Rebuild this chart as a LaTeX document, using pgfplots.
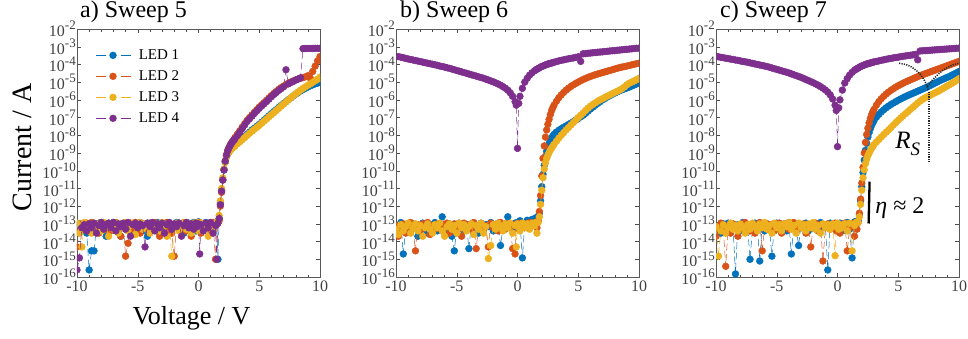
\documentclass[border=0pt]{standalone}
\usepackage{pgfplots}
\pgfplotsset{compat=1.18}
\usepackage{pgfplotstable}
\usepackage{fontspec}
\setmainfont{Liberation Serif}
\definecolor{c1}{RGB}{0,114,189}
\definecolor{c2}{RGB}{217,83,25}
\definecolor{c3}{RGB}{237,177,32}
\definecolor{c4}{RGB}{126,47,142}
\newcommand{\tpow}[1]{10\raisebox{0.42em}{\fontsize{13}{13}\selectfont #1}}

% Sweep 5: V, LED1, LED2, LED3, LED4 (A)
\pgfplotstableread{
V a b c d
-10.0 6e-14 5e-15 1.1e-13 2.5e-16
-9.8 1e-13 4e-14 3e-14 1.2e-15
-9.6 4e-14 1e-13 5e-15 6e-14
-9.4 8e-14 6e-14 1.2e-13 9e-14
-9.2 3e-14 1.1e-13 5e-14 4e-14
-9.0 2.5e-16 7e-14 9e-14 1e-13
-8.8 3e-15 1.2e-13 3e-14 6e-14
-8.6 3e-15 5e-14 1.1e-13 1.1e-13
-8.4 7e-14 9e-14 6e-14 3e-14
-8.2 1.1e-13 3e-14 1e-13 8e-14
-8.0 5e-14 1.2e-13 4e-14 1.2e-13
-7.8 9e-14 8e-14 1.2e-13 5e-14
-7.6 2e-14 5e-14 7e-14 9e-14
-7.4 1e-13 1.1e-13 2e-14 1.1e-13
-7.2 6e-14 4e-14 9e-14 6e-14
-7.0 1.2e-13 9e-14 5e-14 1.2e-13
-6.8 4e-14 1.2e-13 1.1e-13 4e-14
-6.6 8e-14 6e-14 3e-14 1e-13
-6.4 2e-14 2e-14 1e-13 7e-14
-6.2 1e-13 1e-13 6e-14 1.1e-13
-6.0 5e-14 1.5e-15 1.2e-13 5e-14
-5.8 1.1e-13 8e-15 4e-14 1.2e-13
-5.6 7e-14 1.1e-13 8e-14 2e-14
-5.4 3e-14 5e-14 1.1e-13 9e-14
-5.2 1e-13 1.2e-13 2.5e-14 1.1e-13
-5.0 6e-14 7e-14 9e-14 6e-14
-4.8 1.2e-13 3e-14 1.2e-13 1e-13
-4.6 4e-14 1e-13 5e-14 8e-14
-4.4 9e-14 6e-14 1e-13 5e-15
-4.2 2e-14 1.1e-13 7e-14 1.1e-13
-4.0 1.1e-13 4e-14 3e-14 7e-14
-3.8 5e-14 9e-14 1.1e-13 1.2e-13
-3.6 8e-14 1.2e-13 6e-14 4e-14
-3.4 1.2e-13 6e-14 1e-13 1e-13
-3.2 3e-14 2e-14 4e-14 6e-14
-3.0 1e-13 1e-13 1.2e-13 1.1e-13
-2.8 6e-14 8e-14 8e-14 3e-14
-2.6 1.1e-13 1.2e-13 2e-14 9e-14
-2.4 4e-14 5e-14 1e-13 1.2e-13
-2.2 9e-14 3e-14 1.5e-15 5e-14
-2.0 7e-14 1.5e-15 6e-14 1e-13
-1.8 1.2e-13 9e-14 1.1e-13 7e-14
-1.6 5e-14 1.1e-13 4e-14 1.1e-13
-1.4 1e-13 6e-14 9e-14 2e-14
-1.2 3e-14 1.2e-13 1.2e-13 8e-14
-1.0 8e-14 4e-14 5e-14 1.2e-13
-0.8 1.1e-13 1e-13 1e-13 6e-14
-0.6 6e-14 2e-14 3e-14 1e-13
-0.4 1.2e-13 7e-14 1.1e-13 5e-14
-0.2 4e-14 1.1e-13 7e-14 1.1e-13
-0.1 9e-14 5e-14 1.2e-13 7e-14
0.0 1.3e-13 8e-14 4e-14 1e-13
0.1 7e-14 1.2e-13 9e-14 2e-15
0.2 1e-13 3e-14 1.1e-13 9e-14
0.4 5e-14 1e-13 6e-14 4e-14
0.6 1.2e-13 6e-14 1e-13 1.1e-13
0.8 8e-14 1.1e-13 2e-14 6e-14
1.0 1.1e-13 4e-14 1.2e-13 1.2e-13
1.2 6e-14 1.2e-13 7e-14 3e-14
1.4 1e-13 1e-15 1.1e-13 8e-14
1.5 1.2e-13 9e-14 1.2e-13 1e-15
1.6 1e-15 1.2e-13 1.5e-13 1.1e-13
1.7 2e-13 1.5e-13 3e-13 2e-13
1.8 1.5e-12 1e-12 2e-12 1.2e-12
1.9 8e-12 6e-12 1e-11 7e-12
2.0 3e-11 3e-11 4e-11 3e-11
2.1 1.1e-10 1.2e-10 1.2e-10 1.1e-10
2.2 3e-10 3.5e-10 3e-10 3.5e-10
2.3 6e-10 8e-10 6e-10 7.5e-10
2.4 9e-10 1.4e-9 8.5e-10 1.3e-9
2.5 1.2e-9 2e-9 1.1e-9 1.9e-9
2.6 1.5e-9 2.8e-9 1.35e-9 2.6e-9
2.7 1.8e-9 3.6e-9 1.6e-9 3.4e-9
2.8 2.1e-9 4.5e-9 1.9e-9 4.3e-9
2.9 2.5e-9 5.5e-9 2.2e-9 5.2e-9
3.0 2.8e-9 7.5e-9 2.5e-9 6.3e-9
3.2 3.8e-9 1.15e-8 3.3e-9 9.5e-9
3.4 5e-9 1.8e-8 4.3e-9 1.5e-8
3.6 6.5e-9 2.9e-8 5.6e-9 2.4e-8
3.8 8.5e-9 4.5e-8 7.4e-9 3.8e-8
4.0 1.13e-8 7e-8 9.8e-9 6e-8
4.2 1.5e-8 1e-7 1.3e-8 8.5e-8
4.4 2e-8 1.4e-7 1.7e-8 1.2e-7
4.6 2.5e-8 2e-7 2.2e-8 1.7e-7
4.8 3.2e-8 2.8e-7 2.8e-8 2.4e-7
5.0 4.1e-8 3.9e-7 3.6e-8 3.3e-7
5.2 5.5e-8 5.3e-7 4.8e-8 4.5e-7
5.4 7.2e-8 7e-7 6.3e-8 6e-7
5.6 9.5e-8 9.5e-7 8.3e-8 8e-7
5.8 1.25e-7 1.3e-6 1.1e-7 1.1e-6
6.0 1.65e-7 1.75e-6 1.45e-7 1.5e-6
6.2 2.2e-7 2.3e-6 1.9e-7 2e-6
6.4 2.8e-7 3e-6 2.5e-7 2.6e-6
6.6 3.7e-7 3.9e-6 3.3e-7 3.4e-6
6.8 4.8e-7 4.9e-6 4.4e-7 4.3e-6
7.0 6.2e-7 6e-6 5.7e-7 5.4e-6
7.2 8e-7 7.3e-6 7.6e-7 5e-5
7.4 1.03e-6 8.7e-6 1e-6 8e-6
7.6 1.3e-6 1.02e-5 1.3e-6 9.5e-6
7.8 1.65e-6 1.18e-5 1.7e-6 1.1e-5
8.0 2.1e-6 1.35e-5 2.2e-6 1.3e-5
8.2 2.6e-6 1.5e-5 2.8e-6 1.5e-5
8.4 3.2e-6 1.65e-5 3.5e-6 1.75e-5
8.6 3.8e-6 1.8e-5 4.4e-6 7.8e-4
8.8 4.5e-6 2e-5 5.4e-6 7.9e-4
9.0 5.3e-6 2.3e-5 6.6e-6 8e-4
9.2 6.2e-6 1.7e-5 8e-6 8e-4
9.4 7.1e-6 4e-5 9.8e-6 8e-4
9.6 8e-6 8e-5 1.2e-5 8.1e-4
9.8 8.8e-6 1.6e-4 1.45e-5 8.1e-4
10.0 1e-5 2.8e-4 1.9e-5 8.1e-4
}\tabA

% Sweep 6
\pgfplotstableread{
V a b c d
-10.0 3e-14 8e-14 5e-14 2.8e-4
-9.8 7e-14 2e-14 2.5e-14 2.75e-4
-9.6 1.2e-13 5e-14 9e-14 2.57e-4
-9.4 2e-15 1e-13 4e-14 2.4e-4
-9.2 5e-14 3e-14 7e-14 2.19e-4
-9.0 9e-14 7e-14 1.1e-13 2.04e-4
-8.8 4e-14 1.2e-13 3e-14 1.91e-4
-8.6 1e-13 6e-14 6e-14 1.78e-4
-8.4 6e-14 3e-15 1e-13 1.66e-4
-8.2 2e-14 9e-14 4e-14 1.55e-4
-8.0 8e-14 4e-14 8e-14 1.45e-4
-7.8 1.1e-13 1e-13 2e-14 1.35e-4
-7.6 5e-14 6e-14 6e-14 1.26e-4
-7.4 3e-14 1.2e-13 1e-13 1.17e-4
-7.2 9e-14 2.5e-14 5e-14 1.1e-4
-7.0 6e-14 8e-14 3e-14 1.02e-4
-6.8 1.2e-13 5e-14 9e-14 9.55e-5
-6.6 4e-14 1e-13 6e-14 8.91e-5
-6.4 7e-14 7e-14 1.1e-13 8.13e-5
-6.2 2.5e-13 4e-14 4e-14 7.59e-5
-6.0 8e-14 9e-14 2e-14 7.08e-5
-5.8 5e-14 1.1e-13 7e-14 6.46e-5
-5.6 1e-13 3e-14 1e-13 6.03e-5
-5.4 2e-14 6e-14 5e-14 5.5e-5
-5.2 3e-15 1e-13 8e-14 5.01e-5
-5.0 6e-14 5e-14 3e-14 4.57e-5
-4.8 1.1e-13 8e-14 1.1e-13 4.17e-5
-4.6 7e-14 2e-14 6e-14 3.8e-5
-4.4 4e-14 1.1e-13 9e-14 3.47e-5
-4.2 9e-14 6e-14 4e-14 3.16e-5
-4.0 4e-15 9e-14 7e-14 2.88e-5
-3.8 1e-13 5e-14 1e-13 2.63e-5
-3.6 6e-14 1.2e-13 2.5e-14 2.4e-5
-3.4 8e-14 4e-15 8e-14 2.19e-5
-3.2 3e-14 7e-14 5e-14 2e-5
-3.0 1.1e-13 1e-13 1.1e-13 1.82e-5
-2.8 5e-14 4e-14 3e-14 1.66e-5
-2.6 9e-14 8e-14 7e-14 1.48e-5
-2.4 7e-14 5e-15 1.1e-15 1.32e-5
-2.2 1.2e-13 1.1e-13 6e-15 1.17e-5
-2.0 4e-14 6e-14 9e-14 1.05e-5
-1.8 8e-14 9e-14 5e-14 9.12e-6
-1.6 1.1e-13 4e-14 1.1e-13 7.94e-6
-1.4 6e-15 1.2e-13 7e-14 6.76e-6
-1.2 6e-14 7e-14 4e-14 5.62e-6
-1.0 1e-13 5e-14 1e-13 4.57e-6
-0.8 2.5e-13 1e-13 6e-14 3.55e-6
-0.6 9e-14 6e-14 1.1e-13 2.51e-6
-0.4 5e-14 4e-15 3e-14 1.58e-6
-0.2 1.1e-13 2e-15 8e-14 7.94e-7
-0.1 7e-14 1e-13 5e-15 5.01e-7
0.0 1.2e-13 8e-14 1e-13 1.82e-9
0.1 8e-14 5e-14 7e-14 6.31e-7
0.2 1.5e-13 1.1e-13 4e-14 1.58e-6
0.4 1.2e-15 7e-14 1.1e-13 4.47e-6
0.6 1e-13 1e-13 6e-14 1e-5
0.8 1.6e-13 6e-14 1e-13 1.66e-5
1.0 1.2e-13 1.2e-13 5e-14 2.51e-5
1.2 1.8e-13 8e-14 1.1e-13 3.39e-5
1.4 1.4e-13 1e-13 8e-14 4.37e-5
1.5 2.2e-13 1.2e-13 1.2e-13 4.9e-5
1.6 1.5e-13 6e-14 3e-14 5.37e-5
1.7 2e-13 1.5e-13 1.2e-13 5.89e-5
1.8 4e-13 5e-13 2.5e-13 6.46e-5
1.9 2e-12 4e-12 1.26e-12 7.08e-5
2.0 1.26e-11 5e-11 7.9e-12 7.59e-5
2.1 6.3e-11 5e-10 4e-11 8.13e-5
2.2 2e-10 2.5e-9 1.26e-10 8.71e-5
2.3 6.3e-10 7.9e-9 2.8e-10 9.33e-5
2.4 1.26e-9 2e-8 5e-10 1e-4
2.5 2.24e-9 4.2e-8 7.6e-10 1.05e-4
2.6 3.55e-9 7.9e-8 1.07e-9 1.1e-4
2.7 5.25e-9 1.45e-7 1.45e-9 1.15e-4
2.8 7.08e-9 2.4e-7 1.86e-9 1.2e-4
2.9 9.1e-9 3.55e-7 2.4e-9 1.26e-4
3.0 1.12e-8 5e-7 3e-9 1.32e-4
3.2 1.51e-8 8.3e-7 4.57e-9 1.45e-4
3.4 1.9e-8 1.32e-6 6.9e-9 1.58e-4
3.6 2.34e-8 1.9e-6 1e-8 1.7e-4
3.8 2.82e-8 2.63e-6 1.41e-8 1.82e-4
4.0 3.39e-8 3.55e-6 2e-8 1.95e-4
4.2 4.07e-8 4.57e-6 2.75e-8 2.09e-4
4.4 4.9e-8 5.75e-6 3.8e-8 2.19e-4
4.6 5.89e-8 7.08e-6 5.25e-8 2.34e-4
4.8 7.24e-8 8.5e-6 7.24e-8 2.51e-4
5.0 8.91e-8 1.02e-5 1e-7 2.69e-4
5.2 1.1e-7 1.2e-5 1.35e-7 1.48e-4
5.4 1.35e-7 1.41e-5 1.82e-7 3.98e-4
5.6 1.74e-7 1.62e-5 2.51e-7 4.07e-4
5.8 2.29e-7 1.86e-5 3.39e-7 4.27e-4
6.0 3.02e-7 2.09e-5 4.37e-7 4.37e-4
6.2 3.89e-7 2.34e-5 5.5e-7 4.57e-4
6.4 5e-7 2.63e-5 6.76e-7 4.68e-4
6.6 6.31e-7 2.88e-5 8.32e-7 4.9e-4
6.8 7.94e-7 3.16e-5 1e-6 5.01e-4
7.0 1e-6 3.47e-5 1.17e-6 5.13e-4
7.2 1.2e-6 3.8e-5 1.38e-6 5.37e-4
7.4 1.45e-6 4.17e-5 1.62e-6 5.5e-4
7.6 1.74e-6 4.57e-5 1.91e-6 5.75e-4
7.8 2.04e-6 5.01e-5 2.24e-6 5.89e-4
8.0 2.4e-6 5.5e-5 2.63e-6 6.03e-4
8.2 2.82e-6 6.03e-5 3.02e-6 6.31e-4
8.4 3.24e-6 6.61e-5 3.55e-6 6.46e-4
8.6 3.72e-6 7.08e-5 4.27e-6 6.76e-4
8.8 4.17e-6 7.59e-5 5.37e-6 6.92e-4
9.0 4.68e-6 8.13e-5 7.08e-6 7.08e-4
9.2 5.25e-6 8.71e-5 8.71e-6 7.41e-4
9.4 6.03e-6 9.55e-5 1e-5 7.59e-4
9.6 6.92e-6 1.02e-4 1.17e-5 7.94e-4
9.8 7.94e-6 1.1e-4 1.38e-5 8.13e-4
10.0 8.91e-6 1.17e-4 1.66e-5 8.32e-4
}\tabB

% Sweep 7
\pgfplotstableread{
V a b c d
-10.0 4e-14 2e-14 7e-14 2.82e-4
-9.8 8e-14 6e-14 1.5e-15 2.69e-4
-9.6 3e-14 1.1e-13 4e-14 2.51e-4
-9.4 1e-13 5e-14 9e-14 2.4e-4
-9.2 6e-14 4e-16 3e-14 2.24e-4
-9.0 1.1e-13 8e-14 6e-14 2.14e-4
-8.8 5e-14 3e-14 1.1e-13 2e-4
-8.6 7e-14 1e-13 5e-14 1.91e-4
-8.4 1.5e-16 6e-14 8e-14 1.78e-4
-8.2 9e-14 2e-14 4e-14 1.7e-4
-8.0 4e-14 9e-14 1e-13 1.58e-4
-7.8 1.2e-13 5e-14 6e-14 1.48e-4
-7.6 6e-14 1.2e-13 3e-14 1.41e-4
-7.4 8e-14 7e-14 9e-14 1.32e-4
-7.2 1e-15 4e-14 5e-14 1.23e-4
-7.0 5e-14 1e-13 1.1e-13 1.15e-4
-6.8 1.1e-13 3e-14 7e-14 1.07e-4
-6.6 7e-14 8e-14 4e-14 1e-4
-6.4 8e-16 1.2e-13 1e-13 9.33e-5
-6.2 9e-14 3e-15 6e-14 8.71e-5
-6.0 4e-14 6e-14 1.2e-13 8.13e-5
-5.8 1e-13 1e-13 5e-14 7.59e-5
-5.6 6e-14 5e-14 8e-14 6.92e-5
-5.4 1.5e-15 9e-14 3e-14 6.31e-5
-5.2 8e-14 4e-14 1.1e-13 5.75e-5
-5.0 1.1e-13 7e-14 6e-14 5.25e-5
-4.8 5e-14 1.1e-13 9e-14 4.79e-5
-4.6 7e-14 3e-14 4e-14 4.37e-5
-4.4 1e-13 8e-14 1e-13 3.98e-5
-4.2 4e-14 1e-13 7e-14 3.63e-5
-4.0 1.2e-13 5e-14 1.2e-13 3.31e-5
-3.8 2e-15 7e-14 5e-14 2.95e-5
-3.6 8e-14 1.2e-13 8e-14 2.63e-5
-3.4 5e-14 4e-14 3e-14 2.34e-5
-3.2 6e-15 9e-14 1.1e-13 2.09e-5
-3.0 9e-14 6e-14 6e-14 1.86e-5
-2.8 6e-14 1e-13 9e-14 1.62e-5
-2.6 1.1e-13 3e-14 4e-14 1.41e-5
-2.4 4e-14 8e-14 1e-13 1.23e-5
-2.2 8e-14 5e-15 6e-14 1.07e-5
-2.0 1e-13 7e-14 1.2e-13 9.33e-6
-1.8 5e-14 1.1e-13 5e-14 7.94e-6
-1.6 7e-14 4e-14 8e-14 6.76e-6
-1.4 1.2e-13 9e-14 3e-14 5.62e-6
-1.2 6e-14 8e-16 1e-13 4.57e-6
-1.0 9e-14 6e-14 6e-14 3.63e-6
-0.8 2.5e-16 1e-13 9e-14 2.75e-6
-0.6 1.1e-13 5e-14 5e-14 1.91e-6
-0.4 7e-14 8e-14 1e-13 1.12e-6
-0.2 5e-14 1.1e-13 1.6e-15 5.01e-7
-0.1 1e-13 4e-14 7e-14 2.51e-7
0.0 8e-14 7e-14 1.1e-13 2.29e-9
0.1 6e-14 1e-13 5e-14 3.55e-7
0.2 1.1e-13 3e-14 9e-14 1e-6
0.4 4e-14 8e-14 6e-14 3.55e-6
0.6 9e-14 1.1e-13 1e-13 8.91e-6
0.8 1.2e-13 3e-15 4e-14 1.58e-5
1.0 5e-14 6e-14 1.1e-13 2.51e-5
1.2 1.2e-15 1e-13 3e-15 3.55e-5
1.4 1.3e-13 2e-14 8e-14 4.68e-5
1.5 8e-14 1.2e-13 1.1e-13 5.25e-5
1.6 1.4e-13 5e-14 1.3e-13 5.75e-5
1.7 1.5e-13 1.2e-13 1.2e-13 6.31e-5
1.8 3.2e-13 4e-13 2.5e-13 6.92e-5
1.9 2e-12 2.5e-12 1.26e-12 7.59e-5
2.0 1.26e-11 2e-11 7.94e-12 8.13e-5
2.1 7.9e-11 1.58e-10 4e-11 8.71e-5
2.2 4e-10 1e-9 1.12e-10 9.33e-5
2.3 1.41e-9 4e-9 2.51e-10 1e-4
2.4 3.55e-9 1.12e-8 4.47e-10 1.05e-4
2.5 7.94e-9 2.51e-8 7.08e-10 1.1e-4
2.6 1.41e-8 5e-8 1e-9 1.15e-4
2.7 2.34e-8 8.9e-8 1.38e-9 1.2e-4
2.8 3.55e-8 1.41e-7 1.82e-9 1.26e-4
2.9 5e-8 2.1e-7 2.34e-9 1.32e-4
3.0 6.61e-8 2.88e-7 2.95e-9 1.38e-4
3.2 1.05e-7 5e-7 4.17e-9 1.48e-4
3.4 1.51e-7 7.94e-7 5.75e-9 1.58e-4
3.6 2.09e-7 1.15e-6 7.94e-9 1.7e-4
3.8 2.75e-7 1.58e-6 1.1e-8 1.82e-4
4.0 3.55e-7 2.14e-6 1.48e-8 1.95e-4
4.2 4.47e-7 2.75e-6 2e-8 2.09e-4
4.4 5.5e-7 3.47e-6 2.75e-8 2.19e-4
4.6 6.61e-7 4.27e-6 3.8e-8 2.34e-4
4.8 7.94e-7 5.25e-6 5.25e-8 2.45e-4
5.0 9.55e-7 6.31e-6 7.08e-8 2.57e-4
5.2 1.12e-6 7.41e-6 9.55e-8 2.75e-4
5.4 1.32e-6 8.71e-6 1.26e-7 2.88e-4
5.6 1.55e-6 1.02e-5 1.66e-7 3.02e-4
5.8 1.78e-6 1.17e-5 2.19e-7 3.16e-4
6.0 2.04e-6 1.35e-5 2.88e-7 3.31e-4
6.2 2.34e-6 1.55e-5 3.8e-7 3.47e-4
6.4 2.69e-6 1.78e-5 5e-7 3.63e-4
6.6 3.09e-6 2.04e-5 6.61e-7 1.82e-4
6.8 3.55e-6 2.34e-5 8.51e-7 5.75e-4
7.0 4.07e-6 2.63e-5 1.07e-6 5.89e-4
7.2 4.68e-6 2.95e-5 1.29e-6 6.03e-4
7.4 5.37e-6 3.31e-5 1.51e-6 6.17e-4
7.6 6.31e-6 3.72e-5 1.78e-6 6.31e-4
7.8 7.41e-6 4.17e-5 2.09e-6 6.46e-4
8.0 8.71e-6 4.68e-5 2.45e-6 6.61e-4
8.2 1.02e-5 5.25e-5 2.88e-6 6.76e-4
8.4 1.2e-5 5.89e-5 3.39e-6 6.92e-4
8.6 1.38e-5 6.61e-5 4.07e-6 7.08e-4
8.8 1.58e-5 7.41e-5 4.9e-6 7.24e-4
9.0 1.82e-5 8.32e-5 5.89e-6 7.41e-4
9.2 2.09e-5 9.33e-5 7.08e-6 7.59e-4
9.4 2.45e-5 1.05e-4 8.51e-6 7.76e-4
9.6 2.88e-5 1.17e-4 1.02e-5 7.94e-4
9.8 3.39e-5 1.32e-4 1.26e-5 8.13e-4
10.0 3.98e-5 1.48e-4 1.58e-5 8.32e-4
}\tabC

\begin{document}
\begin{tikzpicture}
\path[use as bounding box] (0,0) rectangle (968pt,338pt);

\begin{axis}[
    width=243pt, height=248pt, scale only axis,
    at={(77pt,61pt)}, anchor=south west,
    ymode=log, xmin=-10, xmax=10, ymin=1e-16, ymax=1e-2,
    xtick={-10,-5,0,5,10}, xticklabels={-10,-5,0,5,10},
    minor x tick num=4,
    ytick={1e-16,1e-15,1e-14,1e-13,1e-12,1e-11,1e-10,1e-9,1e-8,1e-7,1e-6,1e-5,1e-4,1e-3,1e-2},
    yticklabels={\tpow{-16},\tpow{-15},\tpow{-14},\tpow{-13},\tpow{-12},\tpow{-11},\tpow{-10},\tpow{-9},\tpow{-8},\tpow{-7},\tpow{-6},\tpow{-5},\tpow{-4},\tpow{-3},\tpow{-2}},
    yminorticks=false,
    tick align=inside,
    major tick length=4pt, minor tick length=2.5pt,
    tick style={black!70, line width=0.4pt},
    axis line style={black!65, line width=0.6pt},
    tick label style={font=\fontsize{16}{16}\selectfont, text=black!75},
    yticklabel style={inner xsep=1pt},
    clip marker paths=true,
    every axis plot/.append style={line width=0.5pt, dash pattern=on 7pt off 3.5pt,
      mark=*, mark size=3.4pt, mark options={solid}},
    legend style={draw=none, fill=none, at={(0.062,0.935)}, anchor=north west,
      font=\fontsize{15}{18}\selectfont, row sep=5pt,
      nodes={inner sep=1pt, text height=11pt, text depth=3pt},
      /tikz/every odd column/.append style={column sep=7pt}},
    legend cell align=left,
    legend image code/.code={\draw[mark repeat=2,mark phase=2,#1,dash pattern=on 10pt off 15pt] plot coordinates {(0pt,0pt) (17.5pt,0pt) (35pt,0pt)};}
  ]
\addplot[color=c1] table[x=V,y=a]{\tabA};
\addplot[color=c2] table[x=V,y=b]{\tabA};
\addplot[color=c3] table[x=V,y=c]{\tabA};
\addplot[color=c4] table[x=V,y=d]{\tabA};
\legend{LED 1,LED 2,LED 3,LED 4}
\end{axis}

\begin{axis}[
    width=243pt, height=248pt, scale only axis,
    at={(396pt,61pt)}, anchor=south west,
    ymode=log, xmin=-10, xmax=10, ymin=1e-16, ymax=1e-2,
    xtick={-10,-5,0,5,10}, xticklabels={-10,-5,0,5,10},
    minor x tick num=4,
    ytick={1e-16,1e-15,1e-14,1e-13,1e-12,1e-11,1e-10,1e-9,1e-8,1e-7,1e-6,1e-5,1e-4,1e-3,1e-2},
    yticklabels={\tpow{-16},\tpow{-15},\tpow{-14},\tpow{-13},\tpow{-12},\tpow{-11},\tpow{-10},\tpow{-9},\tpow{-8},\tpow{-7},\tpow{-6},\tpow{-5},\tpow{-4},\tpow{-3},\tpow{-2}},
    yminorticks=false,
    tick align=inside,
    major tick length=4pt, minor tick length=2.5pt,
    tick style={black!70, line width=0.4pt},
    axis line style={black!65, line width=0.6pt},
    tick label style={font=\fontsize{16}{16}\selectfont, text=black!75},
    yticklabel style={inner xsep=1pt},
    clip marker paths=true,
    every axis plot/.append style={line width=0.5pt, dash pattern=on 7pt off 3.5pt,
      mark=*, mark size=3.4pt, mark options={solid}},
  ]
\addplot[color=c4] table[x=V,y=d]{\tabB};
\addplot[color=c1] table[x=V,y=a]{\tabB};
\addplot[color=c2] table[x=V,y=b]{\tabB};
\addplot[color=c3] table[x=V,y=c]{\tabB};
\end{axis}

\begin{axis}[
    width=243pt, height=248pt, scale only axis,
    at={(716pt,61pt)}, anchor=south west,
    ymode=log, xmin=-10, xmax=10, ymin=1e-16, ymax=1e-2,
    xtick={-10,-5,0,5,10}, xticklabels={-10,-5,0,5,10},
    minor x tick num=4,
    ytick={1e-16,1e-15,1e-14,1e-13,1e-12,1e-11,1e-10,1e-9,1e-8,1e-7,1e-6,1e-5,1e-4,1e-3,1e-2},
    yticklabels={\tpow{-16},\tpow{-15},\tpow{-14},\tpow{-13},\tpow{-12},\tpow{-11},\tpow{-10},\tpow{-9},\tpow{-8},\tpow{-7},\tpow{-6},\tpow{-5},\tpow{-4},\tpow{-3},\tpow{-2}},
    yminorticks=false,
    tick align=inside,
    major tick length=4pt, minor tick length=2.5pt,
    tick style={black!70, line width=0.4pt},
    axis line style={black!65, line width=0.6pt},
    tick label style={font=\fontsize{16}{16}\selectfont, text=black!75},
    yticklabel style={inner xsep=1pt},
    clip marker paths=true,
    every axis plot/.append style={line width=0.5pt, dash pattern=on 7pt off 3.5pt,
      mark=*, mark size=3.4pt, mark options={solid}},
  ]
\addplot[color=c4] table[x=V,y=d]{\tabC};
\addplot[color=c1] table[x=V,y=a]{\tabC};
\addplot[color=c2] table[x=V,y=b]{\tabC};
\addplot[color=c3] table[x=V,y=c]{\tabC};
\addplot[black, solid, line width=2.3pt, mark=none, forget plot] coordinates {(2.64,2.4e-11) (2.56,1.05e-13)};
\addplot[black!85, line width=1.5pt, dash pattern=on 1.2pt off 1.2pt, mark=none, forget plot] coordinates {(5.07,1.17e-4) (5.6,1e-4) (6.03,7.6e-5) (6.5,4.5e-5) (6.86,2.57e-5) (7.1,1.45e-5) (7.27,8.7e-6) (7.46,3.7e-6)};
\addplot[black!85, line width=1.5pt, dash pattern=on 1.2pt off 1.2pt, mark=none, forget plot] coordinates {(7.55,2.95e-6) (7.55,2.6e-10)};
\addplot[black!85, line width=1.5pt, dash pattern=on 1.2pt off 1.2pt, mark=none, forget plot] coordinates {(7.41,5.6e-6) (7.8,1.3e-5) (8.24,2.57e-5) (8.6,4.3e-5) (9.07,6.8e-5) (9.5,9.5e-5) (10,1.17e-4)};
\node[anchor=base west, font=\fontsize{24}{24}\selectfont, inner sep=0pt] at (axis cs:3.1,3.9e-13) {\textit{η} ≈ 2};
\node[anchor=base west, font=\fontsize{25}{25}\selectfont, inner sep=0pt] at (axis cs:4.75,1.9e-9) {\textit{R}\raisebox{-0.3em}{\fontsize{19}{19}\selectfont\textit{S}}};
\end{axis}

\node[anchor=base west, font=\fontsize{24}{24}\selectfont, inner sep=0pt] at (80pt,320.7pt) {a) Sweep 5};
\node[anchor=base west, font=\fontsize{24}{24}\selectfont, inner sep=0pt] at (400pt,320.7pt) {b) Sweep 6};
\node[anchor=base west, font=\fontsize{24}{24}\selectfont, inner sep=0pt] at (720pt,320.7pt) {c) Sweep 7};
\node[rotate=90, font=\fontsize{28}{28}\selectfont, inner sep=0pt] at (22pt,190.5pt) {Current / A};
\node[anchor=base, font=\fontsize{26}{26}\selectfont, inner sep=0pt] at (191.5pt,14pt) {Voltage / V};
\end{tikzpicture}
\end{document}
